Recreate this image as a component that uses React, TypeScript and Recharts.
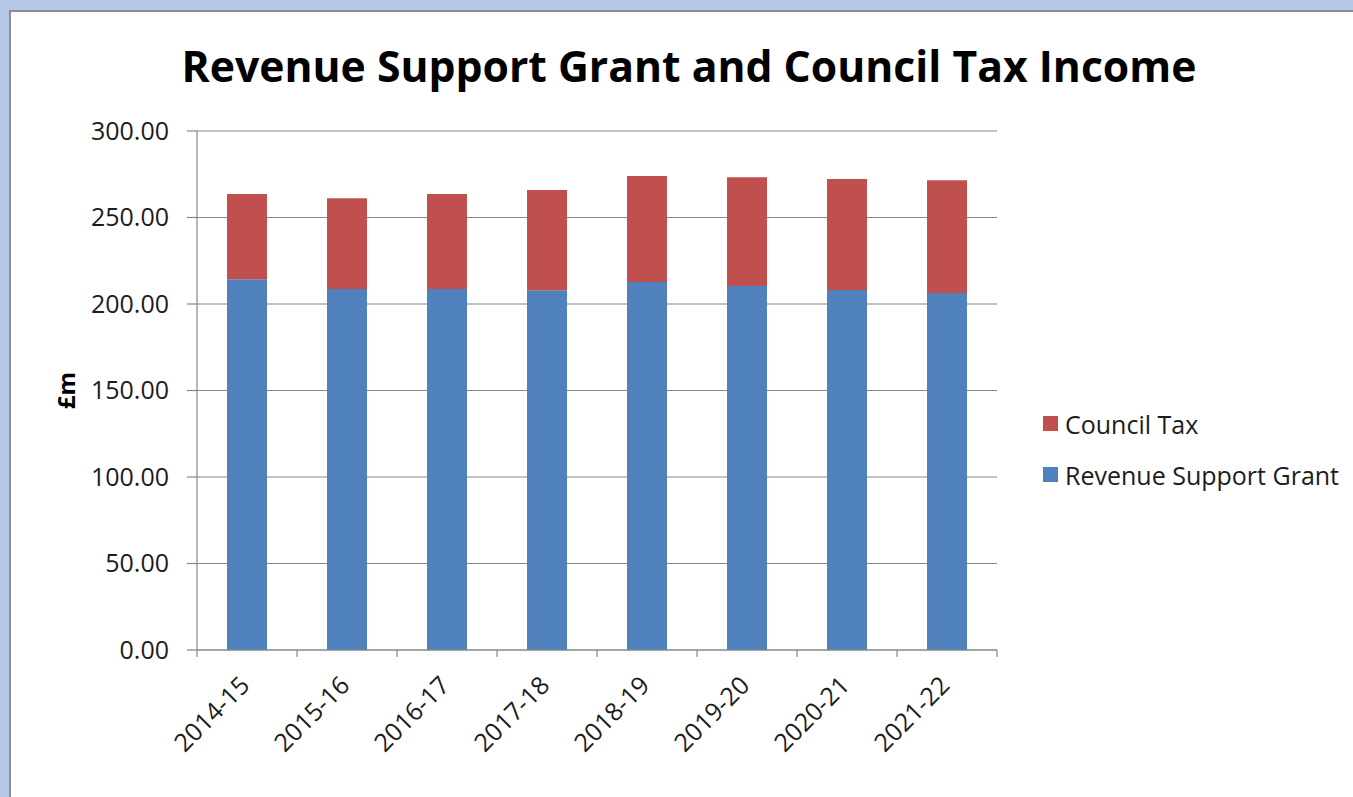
import { BarChart, Bar, XAxis, YAxis, CartesianGrid, Legend } from 'recharts';

const years = ['2014-15', '2015-16', '2016-17', '2017-18', '2018-19', '2019-20', '2020-21', '2021-22'];
const revenueSupportGrant = [214.3, 208.7, 208.7, 207.9, 212.7, 210.4, 208.1, 206.4];
const councilTax = [49.3, 52.4, 54.9, 58.0, 61.3, 62.8, 64.2, 65.1];
const yTicks = [0, 50, 100, 150, 200, 250, 300];

const data = years.map((year, i) => ({
  year,
  rsg: revenueSupportGrant[i],
  ct: councilTax[i],
}));

const FONT = '"Open Sans", sans-serif';
const TEXT = '#1c1c1c';
const GRID = '#878787';

// Excel style: tick marks sit between categories, labels rotated -45
function YearTick(props: any) {
  const { x, y, payload, index, visibleTicksCount } = props;
  const half = payload.offset || 0;
  const last = index === visibleTicksCount - 1;
  return (
    <g>
      <line x1={x - half} x2={x - half} y1={y} y2={y + 7} stroke={GRID} strokeWidth={1.2} />
      {last && <line x1={x + half} x2={x + half} y1={y} y2={y + 7} stroke={GRID} strokeWidth={1.2} />}
      <g transform={`translate(${x + 4},${y + 37})`}>
        <text x={0} y={0} transform="rotate(-45)" textAnchor="end" fill={TEXT} fontFamily={FONT} fontSize={25}>
          {payload.value}
        </text>
      </g>
    </g>
  );
}

function renderLegend(props: any) {
  const items = [...(props.payload || [])].sort((a: any, b: any) =>
    a.value === 'Council Tax' ? -1 : b.value === 'Council Tax' ? 1 : 0
  );
  return (
    <div style={{ fontFamily: FONT, fontSize: 25, color: TEXT }}>
      {items.map((item: any) => (
        <div key={item.value} style={{ display: 'flex', alignItems: 'center', height: 51 }}>
          <span style={{ width: 15, height: 15, background: item.color, marginRight: 7 }} />
          <span>{item.value}</span>
        </div>
      ))}
    </div>
  );
}

export default function App() {
  return (
    <div style={{ position: 'relative', width: 1353, height: 797, background: '#b6c8e8', overflow: 'hidden' }}>
      <style>{'body{margin:0}'}</style>
      <div
        style={{
          position: 'absolute',
          left: 9,
          top: 10,
          width: 1400,
          height: 820,
          background: '#fff',
          border: '2px solid #8d8d8d',
        }}
      />
      <div
        style={{
          position: 'absolute',
          left: 0,
          top: 45,
          width: 1378,
          textAlign: 'center',
          fontFamily: FONT,
          fontWeight: 700,
          fontSize: 42.7,
          lineHeight: 1,
          color: '#000',
        }}
      >
        Revenue Support Grant and Council Tax Income
      </div>
      <div style={{ position: 'absolute', left: 0, top: 0 }}>
        <BarChart
          width={1353}
          height={797}
          data={data}
          margin={{ top: 131, right: 356, bottom: 146, left: 57 }}
        >
          <CartesianGrid vertical={false} stroke={GRID} strokeWidth={1.2} />
          <XAxis
            dataKey="year"
            height={1}
            tickSize={0}
            tickMargin={0}
            axisLine={{ stroke: GRID, strokeWidth: 1.2 }}
            tickLine={false}
            interval={0}
            tick={<YearTick />}
          />
          <YAxis
            width={140}
            domain={[0, 300]}
            ticks={yTicks}
            tickFormatter={(v: number) => v.toFixed(2)}
            tickSize={10}
            tickMargin={18}
            axisLine={{ stroke: GRID, strokeWidth: 1.2 }}
            tickLine={{ stroke: GRID, strokeWidth: 1.2 }}
            tick={{ fill: TEXT, fontFamily: FONT, fontSize: 25 }}
            label={({ viewBox }: any) => {
              const cx = viewBox.x + 8;
              const cy = viewBox.y + viewBox.height / 2;
              return (
                <text
                  x={cx}
                  y={cy}
                  transform={`rotate(-90, ${cx}, ${cy})`}
                  textAnchor="middle"
                  dominantBaseline="central"
                  fontFamily={FONT}
                  fontWeight={700}
                  fontSize={24}
                  fill="#000"
                >
                  £m
                </text>
              );
            }}
          />
          <Legend
            layout="vertical"
            align="center"
            verticalAlign="middle"
            wrapperStyle={{ left: 1043, top: 398, width: 310 }}
            content={renderLegend}
          />
          <Bar dataKey="rsg" name="Revenue Support Grant" stackId="a" fill="#4f81bd" barSize={40} isAnimationActive={false} />
          <Bar dataKey="ct" name="Council Tax" stackId="a" fill="#c0504d" barSize={40} isAnimationActive={false} />
        </BarChart>
      </div>
    </div>
  );
}
